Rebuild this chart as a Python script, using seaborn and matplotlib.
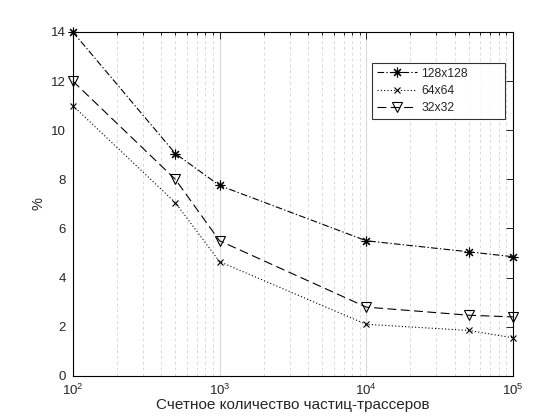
import numpy as np
import pandas as pd
import matplotlib
matplotlib.use('Agg')
import matplotlib.pyplot as plt
import seaborn as sns
from matplotlib.ticker import LogLocator, FixedLocator, NullFormatter

# ── データ ───────────────────────────────────────────
particles = [100, 500, 1000, 10000, 50000, 100000]
err_128 = [14.0, 9.05, 7.75, 5.5, 5.05, 4.85]
err_64 = [11.0, 7.05, 4.65, 2.1, 1.85, 1.55]
err_32 = [12.0, 8.0, 5.5, 2.8, 2.47, 2.4]
series_names = ['128x128', '64x64', '32x32']

df = pd.DataFrame({
    'N': particles * 3,
    'err': err_128 + err_64 + err_32,
    'grid': np.repeat(series_names, len(particles)),
})

sns.set_style('white')
plt.rcParams['font.family'] = ['Liberation Sans', 'DejaVu Sans']
plt.rcParams['mathtext.fontset'] = 'custom'
plt.rcParams['mathtext.rm'] = 'Liberation Sans'
plt.rcParams['mathtext.it'] = 'Liberation Sans:italic'

fig = plt.figure(figsize=(5.6, 4.2), dpi=100)
ax = fig.add_axes([0.130, 0.105, 0.786, 0.819])

styles = {
    '128x128': dict(linestyle=(0, (6, 2, 1.2, 2)), marker=(8, 2, 0), ms=7,
                    mfc='black'),
    '64x64': dict(linestyle=(0, (1, 2)), marker='x', ms=4.5, mfc='black'),
    '32x32': dict(linestyle=(0, (8, 4)), marker='v', ms=6.5, mfc='none'),
}

for name in series_names:
    st = styles[name]
    sub = df[df['grid'] == name]
    sns.lineplot(data=sub, x='N', y='err', ax=ax, color='black', lw=0.8,
                 linestyle=st['linestyle'], marker=st['marker'],
                 markersize=st['ms'], markerfacecolor=st['mfc'],
                 markeredgecolor='black', markeredgewidth=0.8,
                 label=name, clip_on=False, zorder=3)

ax.set_xscale('log')
ax.set_xlim(100, 100000)
ax.set_ylim(0, 14)
ax.yaxis.set_major_locator(FixedLocator(np.arange(0, 15, 2)))
ax.xaxis.set_major_locator(LogLocator(base=10))
ax.xaxis.set_minor_locator(LogLocator(base=10, subs=np.arange(2, 10)))
ax.xaxis.set_minor_formatter(NullFormatter())

ax.grid(True, which='major', axis='x', color='#d9d9d9', lw=0.8, ls='-')
ax.grid(True, which='minor', axis='x', color='#d9d9d9', lw=0.7, ls=(0, (3, 3)))
ax.grid(False, axis='y')
ax.set_axisbelow(True)

for sp in ax.spines.values():
    sp.set_color('black')
    sp.set_linewidth(0.8)
ax.tick_params(which='both', direction='in', top=True, right=True,
               colors='black', labelsize=9.5, width=0.6)
ax.tick_params(which='major', length=5, pad=5)
ax.tick_params(axis='x', which='major', pad=5)
ax.tick_params(which='minor', length=2.5)
for lbl in ax.get_xticklabels() + ax.get_yticklabels():
    lbl.set_color('#262626')

ax.set_xlabel('Счетное количество частиц-трассеров', fontsize=11, labelpad=0,
              color='#262626')
ax.set_ylabel('%', fontsize=10.5, labelpad=4, color='#262626')

leg = ax.legend(loc='upper left', bbox_to_anchor=(0.6795, 0.0, 0.302, 0.910),
                mode='expand', fontsize=8.7,
                frameon=True, fancybox=False, edgecolor='black',
                handlelength=3.3, borderpad=0.4, labelspacing=0.42,
                borderaxespad=0, handletextpad=0.4)
leg.get_frame().set_linewidth(0.8)

fig.savefig('out.png', dpi=100)
